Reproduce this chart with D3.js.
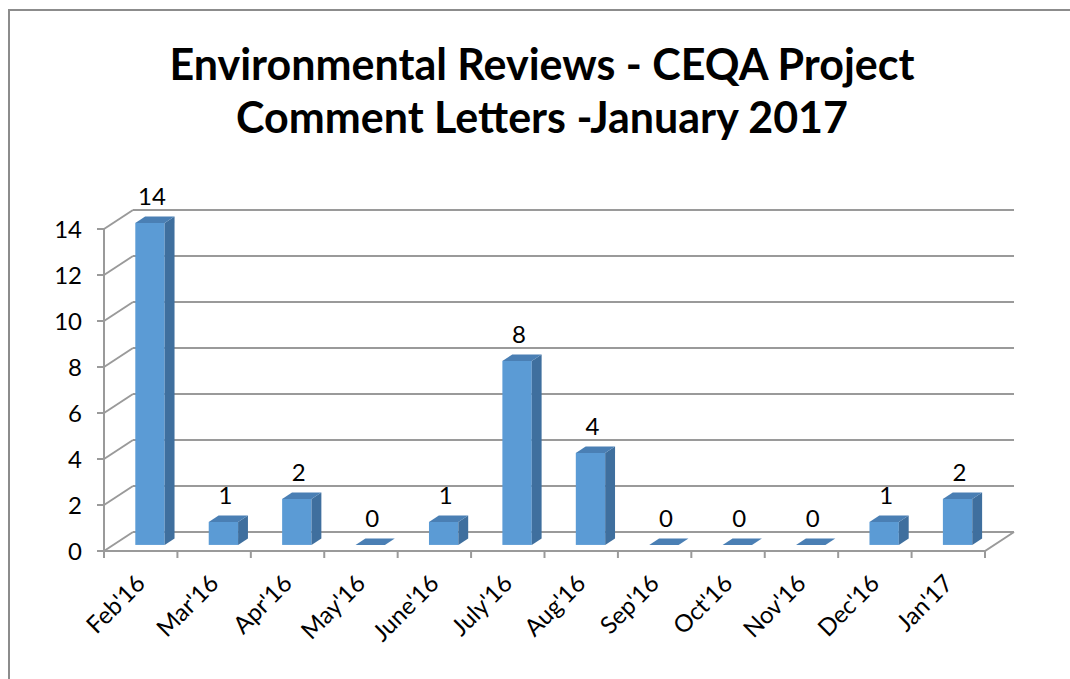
<!DOCTYPE html>
<html>
<head>
<meta charset="utf-8">
<title>CEQA comment letters</title>
<script src="https://d3js.org/d3.v7.min.js"></script>
<style>
  body { margin: 0; background: #fff; overflow: hidden; }
  svg { display: block; }
  text { font-family: Lato, "Open Sans", sans-serif; fill: #000; }
</style>
</head>
<body>
<div id="chart"></div>
<script>

// data
var months = ["Feb'16", "Mar'16", "Apr'16", "May'16", "June'16", "July'16",
              "Aug'16", "Sep'16", "Oct'16", "Nov'16", "Dec'16", "Jan'17"];
var letters = [14, 1, 2, 0, 1, 8, 4, 0, 0, 0, 1, 2];
var yTicks = [0, 2, 4, 6, 8, 10, 12, 14];
var titleLines = ["Environmental Reviews - CEQA Project", "Comment Letters -January 2017"];

var W = 1070, H = 679;

var svg = d3.select("#chart").append("svg")
  .attr("width", W)
  .attr("height", H);

// outer frame (runs past the right and bottom edge)
svg.append("rect")
  .attr("x", 9).attr("y", 10)
  .attr("width", 1200).attr("height", 800)
  .attr("fill", "#fff")
  .attr("stroke", "#8c8c8c")
  .attr("stroke-width", 2);

// title
svg.append("g").selectAll("text")
  .data(titleLines)
  .enter().append("text")
    .attr("x", 542)
    .attr("y", function(d, i) { return 80 + i * 53; })
    .attr("text-anchor", "middle")
    .style("font-size", "43px")
    .style("font-weight", "bold")
    .text(function(d) { return d; });

// scales
var x = d3.scaleBand().domain(months).range([104, 985]);
var y = d3.scaleLinear().domain([0, 14]).range([551, 229]);

// depth of the 3d box
var dx = 29, dy = -19;
var gridCol = "#9a9a9a";

// ---- walls ----
var walls = svg.append("g");

// back wall gridlines
walls.selectAll(".back")
  .data(yTicks)
  .enter().append("line")
    .attr("x1", 104 + dx).attr("x2", 985 + dx)
    .attr("y1", function(d) { return y(d) + dy; })
    .attr("y2", function(d) { return y(d) + dy; })
    .attr("stroke", gridCol).attr("stroke-width", 2);

// side wall diagonals
walls.selectAll(".side")
  .data(yTicks)
  .enter().append("line")
    .attr("x1", 104).attr("x2", 104 + dx)
    .attr("y1", function(d) { return y(d); })
    .attr("y2", function(d) { return y(d) + dy; })
    .attr("stroke", gridCol).attr("stroke-width", 2);

// floor
walls.append("path")
  .attr("d", "M104," + y(0) + "L985," + y(0) + "L" + (985 + dx) + "," + (y(0) + dy))
  .attr("fill", "none")
  .attr("stroke", gridCol).attr("stroke-width", 2);

// vertical axis line
walls.append("line")
  .attr("x1", 104).attr("x2", 104)
  .attr("y1", y(0)).attr("y2", y(14))
  .attr("stroke", gridCol).attr("stroke-width", 2);

// y ticks + labels
walls.selectAll(".yt")
  .data(yTicks)
  .enter().append("line")
    .attr("x1", 97).attr("x2", 104)
    .attr("y1", function(d) { return y(d); })
    .attr("y2", function(d) { return y(d); })
    .attr("stroke", gridCol).attr("stroke-width", 2);

svg.append("g").selectAll("text")
  .data(yTicks)
  .enter().append("text")
    .attr("x", 82)
    .attr("y", function(d) { return y(d); })
    .attr("dy", "0.36em")
    .attr("text-anchor", "end")
    .style("font-size", "24px")
    .text(function(d) { return d; });

// x ticks at category boundaries
var bounds = months.map(function(m) { return x(m); }).concat([985]);
walls.selectAll(".xt")
  .data(bounds)
  .enter().append("line")
    .attr("x1", function(d) { return d; })
    .attr("x2", function(d) { return d; })
    .attr("y1", y(0)).attr("y2", y(0) + 7)
    .attr("stroke", gridCol).attr("stroke-width", 2);

// x labels
svg.append("g").selectAll("text")
  .data(months)
  .enter().append("text")
    .attr("transform", function(d) {
      return "translate(" + (x(d) + x.bandwidth() / 2 + 6) + ",585) rotate(-45)";
    })
    .attr("text-anchor", "end")
    .style("font-size", "24px")
    .text(function(d) { return d; });

// ---- bars ----
var f0 = 0.32, f1 = 0.66;
var bw = x.bandwidth() * 0.4;
var ddx = (f1 - f0) * dx, ddy = (f1 - f0) * dy;

var data = months.map(function(m, i) { return {m: m, v: letters[i]}; });

var bars = svg.append("g").selectAll("g")
  .data(data)
  .enter().append("g");

function barLeft(d) { return x(d.m) + (x.bandwidth() - bw) / 2 + f0 * dx; }
function barTop(d) { return y(d.v) + f0 * dy; }
function barBottom() { return y(0) + f0 * dy; }

// front face
bars.filter(function(d) { return d.v > 0; })
  .append("rect")
    .attr("x", barLeft)
    .attr("y", barTop)
    .attr("width", bw)
    .attr("height", function(d) { return barBottom() - barTop(d); })
    .attr("fill", "#5b9bd5");

// side face
bars.filter(function(d) { return d.v > 0; })
  .append("path")
    .attr("d", function(d) {
      var x1 = barLeft(d) + bw;
      return "M" + x1 + "," + barTop(d) +
        "L" + (x1 + ddx) + "," + (barTop(d) + ddy) +
        "L" + (x1 + ddx) + "," + (barBottom() + ddy) +
        "L" + x1 + "," + barBottom() + "Z";
    })
    .attr("fill", "#3f6f9e");

// top face
bars.append("path")
  .attr("d", function(d) {
    var x0 = barLeft(d), x1 = x0 + bw, t = barTop(d);
    return "M" + x0 + "," + t + "L" + x1 + "," + t +
      "L" + (x1 + ddx) + "," + (t + ddy) +
      "L" + (x0 + ddx) + "," + (t + ddy) + "Z";
  })
  .attr("fill", "#4a7fb4");

// value labels
bars.append("text")
  .attr("x", function(d) { return barLeft(d) + bw / 2 + 2; })
  .attr("y", function(d) { return barTop(d) - 18; })
  .attr("text-anchor", "middle")
  .style("font-size", "24px")
  .text(function(d) { return d.v; });

</script>
</body>
</html>
